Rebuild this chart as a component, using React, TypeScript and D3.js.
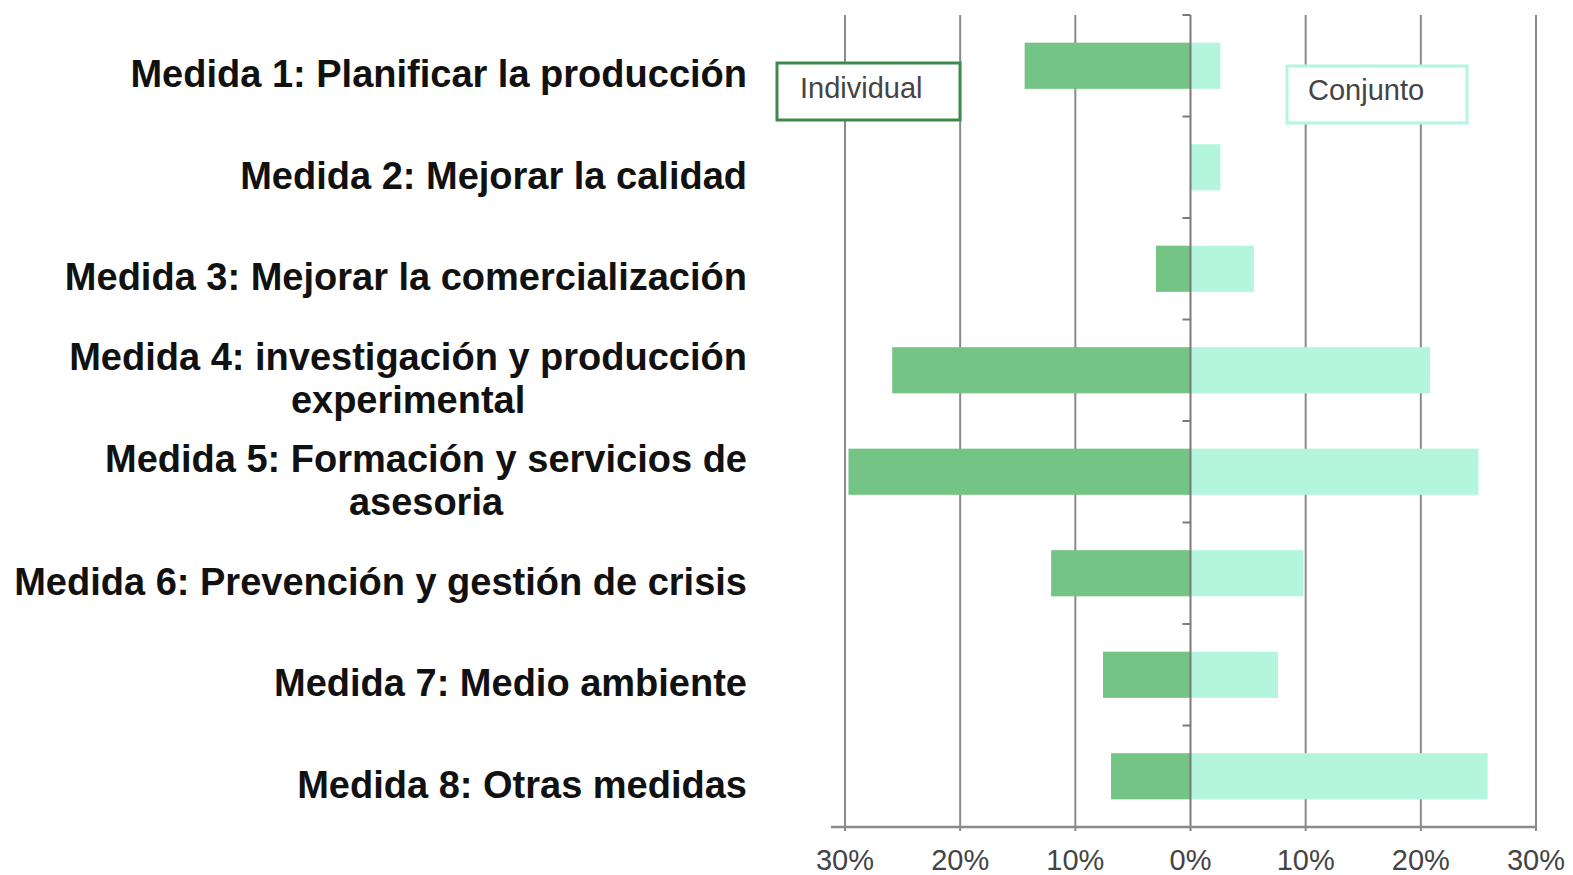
import * as d3 from "d3";
import { useEffect, useRef } from "react";

// categories (label lines as shown in the picture)
const medidas: string[][] = [
  ["Medida 1: Planificar la producción"],
  ["Medida 2: Mejorar la calidad"],
  ["Medida 3: Mejorar la comercialización"],
  ["Medida 4: investigación y producción", "experimental"],
  ["Medida 5: Formación y servicios de", "asesoria"],
  ["Medida 6: Prevención y gestión de crisis"],
  ["Medida 7: Medio ambiente"],
  ["Medida 8: Otras medidas"],
];

// percent values
const individual = [14.4, 0, 3.0, 25.9, 29.7, 12.1, 7.6, 6.9];
const conjunto = [2.6, 2.6, 5.5, 20.8, 25.0, 9.8, 7.6, 25.8];

const tickValues = [-30, -20, -10, 0, 10, 20, 30];

const width = 1573;
const height = 875;

export default function App() {
  const svgRef = useRef<SVGSVGElement>(null);

  useEffect(() => {
    const svg = d3.select(svgRef.current);
    svg.selectAll("*").remove();

    const x = d3.scaleLinear().domain([-30, 30]).range([845, 1536]);
    const y = d3
      .scaleBand<number>()
      .domain(d3.range(medidas.length))
      .range([15, 827])
      .padding(0);
    const barH = y.bandwidth() * 0.455;
    const yTop = 15;
    const yBottom = 827;

    // vertical gridlines
    svg
      .append("g")
      .selectAll("line")
      .data(tickValues.filter((d) => d !== 0))
      .enter()
      .append("line")
      .attr("x1", (d) => x(d))
      .attr("x2", (d) => x(d))
      .attr("y1", yTop)
      .attr("y2", yBottom + 4)
      .attr("stroke", "#8a8a8a")
      .attr("stroke-width", 2);

    // bars
    svg
      .append("g")
      .selectAll("rect")
      .data(individual)
      .enter()
      .append("rect")
      .attr("x", (d) => x(-d))
      .attr("y", (d, i) => y(i)! + (y.bandwidth() - barH) / 2)
      .attr("width", (d) => x(0) - x(-d))
      .attr("height", barH)
      .attr("fill", "#74c585");

    svg
      .append("g")
      .selectAll("rect")
      .data(conjunto)
      .enter()
      .append("rect")
      .attr("x", x(0))
      .attr("y", (d, i) => y(i)! + (y.bandwidth() - barH) / 2)
      .attr("width", (d) => x(d) - x(0))
      .attr("height", barH)
      .attr("fill", "#b3f6dd");

    // center axis with ticks at band edges
    svg
      .append("line")
      .attr("x1", x(0))
      .attr("x2", x(0))
      .attr("y1", yTop)
      .attr("y2", yBottom + 4)
      .attr("stroke", "#7a7a7a")
      .attr("stroke-width", 2);
    svg
      .append("g")
      .selectAll("line")
      .data(d3.range(medidas.length + 1))
      .enter()
      .append("line")
      .attr("x1", x(0) - 8)
      .attr("x2", x(0))
      .attr("y1", (d) => yTop + d * y.step())
      .attr("y2", (d) => yTop + d * y.step())
      .attr("stroke", "#7a7a7a")
      .attr("stroke-width", 2);

    // bottom axis
    svg
      .append("line")
      .attr("x1", x(-30) - 14)
      .attr("x2", x(30))
      .attr("y1", yBottom)
      .attr("y2", yBottom)
      .attr("stroke", "#8a8a8a")
      .attr("stroke-width", 2.5);

    svg
      .append("g")
      .selectAll("text")
      .data(tickValues)
      .enter()
      .append("text")
      .attr("x", (d) => x(d))
      .attr("y", 870)
      .attr("text-anchor", "middle")
      .attr("font-family", "'Liberation Sans', Arial, sans-serif")
      .attr("font-size", 29)
      .attr("fill", "#444")
      .text((d) => `${Math.abs(d)}%`);

    // category labels, right-aligned block, lines centered in block
    const labelRight = 747;
    const lineGap = 43;
    medidas.forEach((lines, i) => {
      const cy = y(i)! + y.bandwidth() / 2;
      const g = svg.append("g");
      const texts = lines.map((ln, k) =>
        g
          .append("text")
          .attr("y", cy + 21.5 + (k - (lines.length - 1) / 2) * lineGap)
          .attr("text-anchor", "middle")
          .attr("font-family", "'Liberation Sans', Arial, sans-serif")
          .attr("font-weight", "bold")
          .attr("font-size", 38)
          .attr("fill", "#111")
          .text(ln)
      );
      const maxW = d3.max(texts, (t) => (t.node() as SVGTextElement).getComputedTextLength()) || 0;
      texts.forEach((t) => t.attr("x", labelRight - maxW / 2));
    });

    // legend boxes
    const legend = [
      { name: "Individual", x: 777, y: 63, w: 183, h: 57, stroke: "#3f8a4a", textX: 800, textY: 98 },
      { name: "Conjunto", x: 1287, y: 66, w: 180, h: 57, stroke: "#b3f6dd", textX: 1308, textY: 100 },
    ];
    const lg = svg.append("g").selectAll("g").data(legend).enter().append("g");
    lg.append("rect")
      .attr("x", (d) => d.x)
      .attr("y", (d) => d.y)
      .attr("width", (d) => d.w)
      .attr("height", (d) => d.h)
      .attr("fill", "#fff")
      .attr("stroke", (d) => d.stroke)
      .attr("stroke-width", 3);
    lg.append("text")
      .attr("x", (d) => d.textX)
      .attr("y", (d) => d.textY)
      .attr("font-family", "'Liberation Sans', Arial, sans-serif")
      .attr("font-size", 29)
      .attr("fill", "#444")
      .text((d) => d.name);
  }, []);

  return (
    <svg
      ref={svgRef}
      width={width}
      height={height}
      style={{ position: "absolute", left: 0, top: 0, background: "#fff" }}
    ></svg>
  );
}
